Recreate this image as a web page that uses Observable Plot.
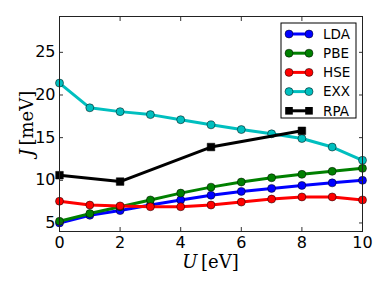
<!DOCTYPE html>
<html><head><meta charset="utf-8">
<script src="https://cdn.jsdelivr.net/npm/d3@7"></script>
<script src="https://cdn.jsdelivr.net/npm/@observablehq/plot@0.6"></script>
<style>
html,body{margin:0;padding:0;background:#fff;}
#chart{width:382px;height:286px;}
</style>
</head><body><div id="chart"></div>
<script>
const U = [0, 1, 2, 3, 4, 5, 6, 7, 8, 9, 10];
const LDA = [5.0, 5.9, 6.45, 7.1, 7.7, 8.25, 8.7, 9.05, 9.4, 9.7, 10.0];
const PBE = [5.2, 6.1, 6.9, 7.7, 8.5, 9.2, 9.8, 10.3, 10.7, 11.05, 11.4];
const HSE = [7.55, 7.1, 7.0, 6.9, 6.9, 7.1, 7.45, 7.8, 8.05, 8.05, 7.7];
const EXX = [21.4, 18.5, 18.05, 17.7, 17.1, 16.5, 15.95, 15.45, 14.9, 13.9, 12.35];
const U_RPA = [0, 2, 5, 8];
const RPA = [10.6, 9.85, 13.9, 15.8];
const seriesNames = ["LDA", "PBE", "HSE", "EXX", "RPA"];
const seriesColors = ["#0000ff", "#008000", "#ff0000", "#00bfbf", "#000000"];
const xTicks = [0, 2, 4, 6, 8, 10];
const yTicks = [5, 10, 15, 20, 25];

const circleSeries = [LDA, PBE, HSE, EXX].map((vals, i) =>
  vals.map((v, j) => ({U: U[j], J: v, s: seriesNames[i]})));
const rpaData = RPA.map((v, j) => ({U: U_RPA[j], J: v, s: "RPA"}));

const marks = [];
circleSeries.forEach((d, i) => {
  marks.push(Plot.line(d, {x: "U", y: "J", stroke: seriesColors[i], strokeWidth: 3}));
  marks.push(Plot.dot(d, {x: "U", y: "J", r: 4, fill: seriesColors[i], stroke: "#000", strokeWidth: 0.5}));
});
marks.push(Plot.line(rpaData, {x: "U", y: "J", stroke: seriesColors[4], strokeWidth: 3}));
marks.push(Plot.dot(rpaData, {x: "U", y: "J", symbol: "square", r: 4.3, fill: "#000", stroke: "#000", strokeWidth: 0.5}));

const tickFont = {fontSize: 16, fontFamily: "DejaVu Sans"};
marks.push(Plot.axisX(xTicks, {anchor: "bottom", tickSize: -4, tickPadding: 9, label: null, ...tickFont, stroke: "#333"}));
marks.push(Plot.axisX(xTicks, {anchor: "top", tickSize: -4, tickFormat: () => "", label: null, stroke: "#333"}));
marks.push(Plot.axisY(yTicks, {anchor: "left", tickSize: -4, tickPadding: 8, label: null, ...tickFont, stroke: "#333"}));
marks.push(Plot.axisY(yTicks, {anchor: "right", tickSize: -4, tickFormat: () => "", label: null, stroke: "#333"}));
marks.push(Plot.frame({stroke: "#222", strokeWidth: 1}));

const chart = Plot.plot({
  width: 382, height: 286,
  marginLeft: 59, marginRight: 20, marginTop: 16, marginBottom: 55,
  x: {domain: [0, 10]},
  y: {domain: [4, 29.2]},
  style: {background: "#fff", color: "#000", overflow: "visible"},
  marks
});
document.getElementById("chart").appendChild(chart);

const svg = d3.select(chart);
// axis labels
const xl = svg.append("text").attr("x", 210.5).attr("y", 268)
  .attr("text-anchor", "middle").attr("font-family", "DejaVu Serif").attr("font-size", 18).attr("fill", "#000");
xl.append("tspan").attr("font-style", "italic").text("U");
xl.append("tspan").text("\u2009[eV]");
const yl = svg.append("text").attr("transform", "translate(33,123.5) rotate(-90)")
  .attr("text-anchor", "middle").attr("font-family", "DejaVu Serif").attr("font-size", 18).attr("fill", "#000");
yl.append("tspan").attr("font-style", "italic").text("J");
yl.append("tspan").text("\u2009[meV]");

// legend
const lg = svg.append("g").attr("text-anchor", "start");
lg.append("rect").attr("x", 281).attr("y", 23).attr("width", 75).attr("height", 95)
  .attr("fill", "#fff").attr("stroke", "#000").attr("stroke-width", 1);
seriesNames.forEach((name, i) => {
  const y = 34 + i * 19.2;
  lg.append("line").attr("x1", 289).attr("x2", 309).attr("y1", y).attr("y2", y)
    .attr("stroke", seriesColors[i]).attr("stroke-width", 3);
  [289, 309].forEach(x => {
    if (name === "RPA") {
      lg.append("rect").attr("x", x - 3.8).attr("y", y - 3.8).attr("width", 7.6).attr("height", 7.6)
        .attr("fill", "#000");
    } else {
      lg.append("circle").attr("cx", x).attr("cy", y).attr("r", 4)
        .attr("fill", seriesColors[i]).attr("stroke", "#000").attr("stroke-width", 0.5);
    }
  });
  lg.append("text").attr("x", 323).attr("y", y).attr("dy", "0.35em").attr("text-anchor", "start")
    .attr("font-family", "DejaVu Sans").attr("font-size", 13.5).attr("fill", "#000").text(name);
});
</script>
</body></html>
